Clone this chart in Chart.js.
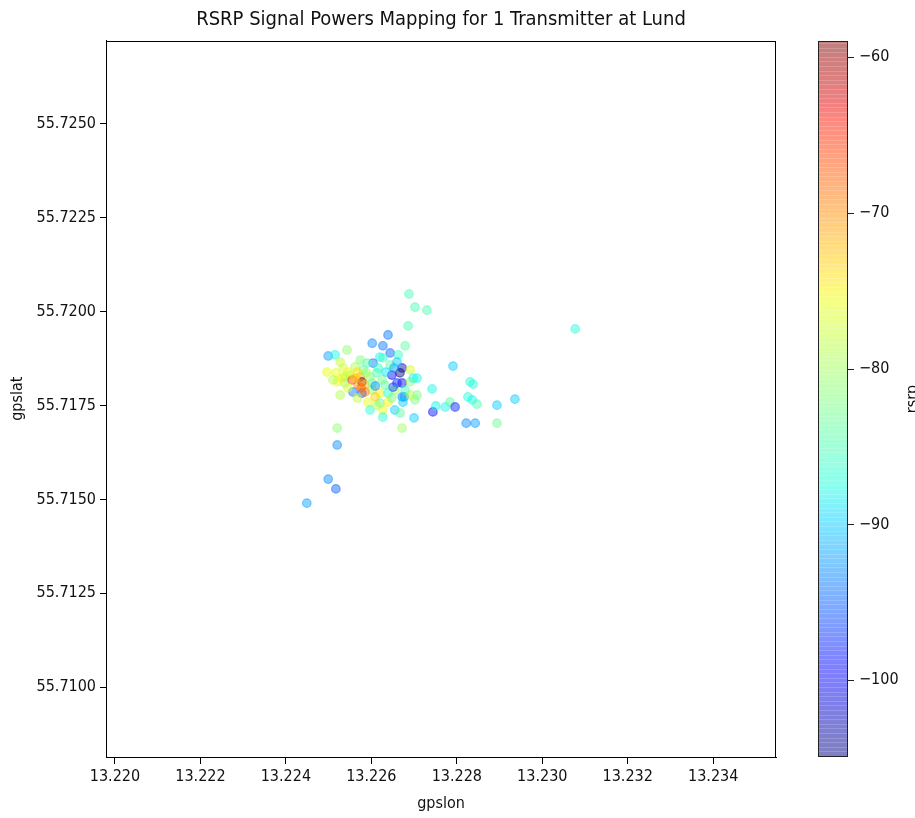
<!DOCTYPE html>
<html><head><meta charset="utf-8">
<script src="https://cdn.jsdelivr.net/npm/chart.js@4.4.1/dist/chart.umd.min.js"></script>
<style>html,body{margin:0;padding:0;background:#fff;overflow:hidden}#wrap{width:915px;height:818px;position:relative}</style>
</head><body><div id="wrap"><canvas id="c" width="915" height="818"></canvas></div>
<script>
const gpslon = [13.22449,13.22499,13.22517,13.22520,13.22520,13.22499,13.23077,13.22688,13.22702,13.22730,
13.22686,13.22679,13.22791,13.22742,13.22744,13.22751,13.22773,13.22784,13.22796,13.22826,
13.22831,13.22838,13.22836,13.22847,13.22822,13.22843,13.22894,13.22894,13.22936,13.22700,
13.22672,13.22707,13.22707,13.22677,13.22672,13.22672,13.22691,13.22702,13.22639,13.22602,
13.22627,13.22644,13.22663,13.22543,13.22515,13.22620,13.22604,13.22590,13.22581,13.22562,
13.22534,13.22517,13.22550,13.22574,13.22578,13.22569,13.22597,13.22613,13.22625,13.22648,
13.22667,13.22660,13.22691,13.22698,13.22538,13.22520,13.22557,13.22578,13.22602,13.22620,
13.22639,13.22672,13.22592,13.22620,13.22639,13.22674,13.22597,13.22627,13.22655,13.22627,
13.22496,13.22510,13.22538,13.22567,13.22585,13.22555,13.22609,13.22527,13.22644,13.22655,
13.22527,13.22545,13.22562,13.22588,13.22602,13.22616,13.22634,13.22632,13.22653,13.22679,
13.22567,13.22545,13.22613,13.22648,13.22585,13.22660,13.22627,13.22574,13.22667,13.22691,
13.22531,13.22609,13.22651,13.22576];
const gpslat = [55.71490,55.71554,55.71528,55.71645,55.71690,55.71882,55.71954,55.72047,55.72012,55.72004,
55.71962,55.71909,55.71855,55.71794,55.71733,55.71749,55.71746,55.71759,55.71746,55.71773,
55.71813,55.71807,55.71765,55.71754,55.71703,55.71703,55.71751,55.71703,55.71767,55.71717,
55.71690,55.71778,55.71823,55.71773,55.71810,55.71850,55.71845,55.71765,55.71938,55.71916,
55.71909,55.71890,55.71885,55.71898,55.71885,55.71879,55.71863,55.71863,55.71845,55.71853,
55.71850,55.71837,55.71831,55.71826,55.71813,55.71805,55.71826,55.71837,55.71818,55.71831,
55.71837,55.71810,55.71813,55.71823,55.71810,55.71813,55.71786,55.71783,55.71791,55.71783,
55.71783,55.71773,55.71759,55.71757,55.71759,55.71759,55.71738,55.71738,55.71738,55.71719,
55.71839,55.71818,55.71826,55.71839,55.71805,55.71818,55.71773,55.71778,55.71858,55.71791,
55.71866,55.71839,55.71823,55.71837,55.71810,55.71850,55.71839,55.71805,55.71850,55.71791,
55.71770,55.71797,55.71751,55.71770,55.71786,55.71866,55.71877,55.71871,55.71730,55.71778,
55.71823,55.71802,55.71799,55.71797];
const rsrp = [-92,-93,-95,-93,-81,-92,-87,-85,-85,-85,
-85,-84,-90,-88,-99,-88,-88,-84,-98,-87,
-87,-87,-88,-85,-93,-92,-90,-83,-90,-90,
-80,-82,-88,-93,-101,-103,-77,-82,-94,-93,
-94,-95,-86,-81,-88,-88,-94,-85,-84,-79,
-77,-76,-79,-71,-58.9,-70,-81,-85,-82,-100,
-104.9,-98,-81,-88,-80,-76,-94,-96,-80,-75,
-87,-93,-76,-84,-75,-90,-87,-76,-90,-87,
-76,-79,-81,-74,-72,-66,-73,-79,-84,-80,
-78,-76,-73,-80,-83,-86,-89,-84,-92,-86,
-78,-77,-79,-82,-69,-90,-86,-82,-84,-79,
-75,-93,-96,-68];
const xTicks = [13.220,13.222,13.224,13.226,13.228,13.230,13.232,13.234];
const yTicks = [55.7100,55.7125,55.7150,55.7175,55.7200,55.7225,55.7250];
const cbTicks = [-100,-90,-80,-70,-60];
const xRange = [13.21979, 13.23547];
const yRange = [55.70814, 55.72722];
const cbRange = [-104.94, -58.93];

const jetR = [[0,0],[0.35,0],[0.66,1],[0.89,1],[1,0.5]];
const jetG = [[0,0],[0.125,0],[0.375,1],[0.64,1],[0.91,0],[1,0]];
const jetB = [[0,0.5],[0.11,1],[0.34,1],[0.65,0],[1,0]];
function seg(p,t){for(let i=0;i<p.length-1;i++){if(t<=p[i+1][0]){const f=(t-p[i][0])/(p[i+1][0]-p[i][0]);return p[i][1]+f*(p[i+1][1]-p[i][1]);}}return p[p.length-1][1];}
function jet(t,a){t=Math.max(0,Math.min(1,t));return `rgba(${Math.round(255*seg(jetR,t))},${Math.round(255*seg(jetG,t))},${Math.round(255*seg(jetB,t))},${a})`;}
function colorOf(v,a){return jet((v-cbRange[0])/(cbRange[1]-cbRange[0]),a);}

const FONT = "'DejaVu Sans Condensed','DejaVu Sans',sans-serif";
const tickFont = {family: FONT, size: 16};
const ink = '#111';

const frame = {
  id:'frame',
  afterDatasetsDraw(chart){
    const {ctx, chartArea:a} = chart;
    ctx.save(); ctx.strokeStyle='#000'; ctx.lineWidth=1;
    ctx.strokeRect(Math.round(a.left)+0.5, Math.round(a.top)+0.5, Math.round(a.right-a.left)-1, Math.round(a.bottom-a.top)-1);
    ctx.restore();
  },
  afterDraw(chart){
    const {ctx, chartArea:a} = chart;
    const s = chart.scales.cb;
    const x0 = Math.round(a.right) + 42, w = 30;
    const yt = Math.round(s.getPixelForValue(cbRange[1])), yb = Math.round(s.getPixelForValue(cbRange[0]));
    ctx.save();
    const g = ctx.createLinearGradient(0, yb, 0, yt);
    for(let i=0;i<=60;i++){g.addColorStop(i/60, jet(i/60,0.5));}
    ctx.fillStyle = g; ctx.fillRect(x0, yt, w, yb-yt);
    ctx.fillStyle = 'rgba(255,255,255,0.18)';
    for(let y=yt+2; y<yb; y+=4.6){ ctx.fillRect(x0, Math.round(y), w, 1); }
    ctx.strokeStyle = '#222'; ctx.lineWidth = 1;
    ctx.strokeRect(x0+0.5, yt+0.5, w-1, yb-yt-1);
    for(const v of cbTicks){
      const y = Math.round(s.getPixelForValue(v))+0.5;
      ctx.beginPath(); ctx.moveTo(x0+w, y); ctx.lineTo(x0+w+6, y); ctx.stroke();
    }
    ctx.fillStyle = ink; ctx.font = `16px ${FONT}`;
    ctx.translate(905, (yt+yb)/2); ctx.rotate(-Math.PI/2);
    ctx.textAlign='center'; ctx.textBaseline='top';
    ctx.fillText('rsrp', 0, 0);
    ctx.restore();
  }
};

new Chart(document.getElementById('c'), {
  type:'scatter',
  data:{datasets:[{
    data: gpslon.map((x,i)=>({x, y: gpslat[i]})),
    backgroundColor: c => colorOf(rsrp[c.dataIndex],0.45),
    borderColor: c => colorOf(rsrp[c.dataIndex],0.45),
    borderWidth: 1.2, pointRadius: 4.3, pointHoverRadius: 4.3
  }]},
  options:{
    responsive:false, animation:false, devicePixelRatio:1,
    layout:{padding:{left:0,right:0,top:0,bottom:0}},
    plugins:{
      legend:{display:false}, tooltip:{enabled:false},
      title:{display:true, fullSize:false, text:'RSRP Signal Powers Mapping for 1 Transmitter at Lund', color:ink,
        font:{family:FONT, size:20, weight:'normal', lineHeight:1.2}, padding:{top:8,bottom:8.5}}
    },
    scales:{
      x:{type:'linear', position:'bottom', min:xRange[0], max:xRange[1],
        afterBuildTicks: s => { s.ticks = xTicks.map(v=>({value:v})); },
        afterFit: s => { s.height = 61; },
        ticks:{callback: v => Number(v).toFixed(3), font:tickFont, color:ink, padding:3, maxRotation:0, autoSkip:false},
        grid:{display:true, drawOnChartArea:false, drawTicks:true, tickLength:7, color:'#000'},
        border:{display:true, color:'#000'},
        title:{display:true, text:'gpslon', color:ink, font:{family:FONT,size:16,lineHeight:1.2}, padding:{top:0,bottom:5}}
      },
      y:{type:'linear', position:'left', min:yRange[0], max:yRange[1],
        afterBuildTicks: s => { s.ticks = yTicks.map(v=>({value:v})); },
        afterFit: s => { s.width = 106; },
        ticks:{callback: v => Number(v).toFixed(4), font:tickFont, color:ink, padding:4, autoSkip:false},
        grid:{display:true, drawOnChartArea:false, drawTicks:true, tickLength:6, color:'#000'},
        border:{display:true, color:'#000'},
        title:{display:true, text:'gpslat', color:ink, font:{family:FONT,size:16,lineHeight:1.2}, padding:{top:8,bottom:0}}
      },
      cb:{type:'linear', position:'right', min:cbRange[0], max:cbRange[1],
        afterBuildTicks: s => { s.ticks = cbTicks.map(v=>({value:v})); },
        afterFit: s => { s.width = 139; s.paddingTop = 0; s.paddingBottom = 0; },
        ticks:{callback: v => '\u2212' + Math.abs(v), font:tickFont, color:ink, padding:83, autoSkip:false},
        grid:{display:false, drawTicks:false},
        border:{display:false}
      }
    }
  },
  plugins:[frame]
});
</script></body></html>
